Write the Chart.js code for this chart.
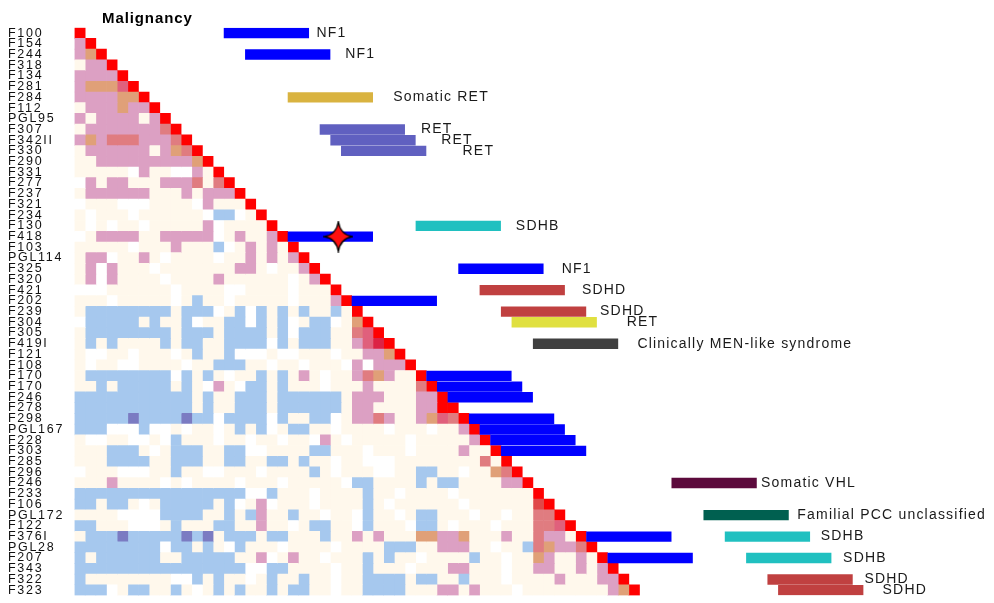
<!DOCTYPE html>
<html>
<head>
<meta charset="utf-8">
<script src="https://cdn.jsdelivr.net/npm/chart.js"></script>
<style>
  html, body { margin: 0; padding: 0; background: #ffffff; }
  canvas { display: block; }
</style>
</head>
<body>
<canvas id="chart" width="994" height="603"></canvas>
<script>
// Sample identifiers, top to bottom
const sampleLabels = [
  'F100','F154','F244','F318','F134','F281','F284','F112','PGL95','F307',
  'F342II','F330','F290','F331','F277','F237','F321','F234','F130','F418',
  'F103','PGL114','F325','F320','F421','F202','F239','F304','F305','F419I',
  'F121','F108','F170','F170','F246','F278','F298','PGL167','F228','F303',
  'F285','F296','F246','F233','F106','PGL172','F122','F376I','PGL28','F207',
  'F343','F322','F323'
];

// Lower-triangle similarity classes: row r holds one code per earlier sample (columns 0..r-1)
// . none  c weak  p moderate  o high  r strong  m very strong  d/e extreme  b inverse  v strong inverse
const cellRows = [
  '',
  'p',
  'po',
  'cpp',
  'pppp',
  'pooom',
  'ppppoo',
  'cpppopp',
  'pcppppcp',
  'cpppppppr',
  'poprrrpppr',
  'cppppppcpor',
  'ccpppppppppo',
  'ccccc.pcc..pc',
  '.pcppcccppprcr',
  'cppppppcccpcppp',
  '.ccc...cccc.pccc',
  'c.ccc.cccccc.bb.c',
  'c.c.cc.cccccp.cccc',
  '.cppppccppppp.cpccp',
  'ccccc.cccpcccb.cpcpc',
  'cpp.ccpc.cccc.ccpcpcp',
  'cp.pccc.cccccccppc.ccp',
  'cp.pcccc.ccccpcccccc.cp',
  '...cccccc.cccc..cccc.ccc',
  'ccc.ccccc.cbcc.ccccc.cccp',
  'cbbbbbbbbcbbb.cb.bcbcbccbc',
  '.bbbbbcbccb.ccbb.bcb.cbb.co',
  'cbbbbbbbbcbbbcbbbbcb.bbbccrm',
  'cbcbccccbcbbccbbbb.bcbbbccpmd',
  'c..cc.ccc.cbccb...c..ccc.ccppo',
  'c.cc..cccc.ccbbbcc.cc.ccc.p.ppp',
  'cbbbbbbbb.bcbc.ccbcbcpc.ccpropcc',
  'ccbcbbbbbcbc.pc.bbcbccc.cccpccccr',
  'bbbbbbbbbbbcbccbbbcbbbbbbcpppcccpp',
  'bbbbbbbbbbbcbccbbbcbbbbbbcppccccppX',
  'bbbbbvbbbbvbb.bbbb.bccbb.cpprpccpomr',
  'bbb...b..c.cc.cbcb.cbbcc.cccc.ccc.ccp',
  'c..cc..c.bccc.cc.cc.cc.pc.ccccc.cccccp',
  'cccbbbc.cbbbccbb..ccccbbccc.ccc.ccccpcc',
  'cccbbbbccbbbccbbccbbcbcc.cc...ccccccccr',
  '.ccc...ccbcc..ccc.ccccbc.ccc..ccbbcc.ccor',
  'cccpcccc.c.cccc.ccc.ccccc.bbccccbcbbccccpp',
  'bbbbbbbbbbbbbbbb..bccc.ccccbcc.cccc.ccccccc',
  'bbcbbc.cbbbbbcb.cp.ccc.ccccbc.cccccc.cccccce',
  'cccc....bbbbccbcbpccbcc.cc.bcc.cbbccc.cc.ccrr',
  'bbccc...cbcccbbccpcc.cbbcc.bccc.bbc.ccc.cccrrm',
  'cbbbvbbbbbvbvcbbbcbbcccbccpcpcccooppocccpccrppc',
  'bbbbbbbb.bbcbc.bccc.cccc.ccccbbbccpppcc.ccbroppr',
  'bcbbbbbbccbbbbbccp.cpcc.cccbcbcc.ccccbcc.ccopccpc',
  'bbbbbbbbbbbbbbbb..bbcccc.ccbccc.cccppccc.ccppccpcp',
  'bcccccccc..bcbcc.cbccbcc.ccbbbbcbbccbccc.ccccpcccpp',
  'bbb.cbbccbc.cbcbccbcbbcc.ccbbbbcccppcpccc.ccccccccpo'
];

// Mutation / syndrome bars beside the matrix
const barRow   = [0, 2, 6, 9, 10, 11, 18, 19, 22, 24, 25, 26, 27, 29, 32, 33, 34, 36, 37, 38, 39, 42, 45, 47, 47, 49, 49, 51, 52];
const barStart = [14, 16, 20, 23, 24, 25, 32, 20, 36, 38, 26, 40, 41, 43, 33, 34, 35, 37, 38, 39, 40, 56, 59, 48, 61, 50, 63, 65, 66];
const barEnd   = [22, 24, 28, 31, 32, 33, 40, 28, 44, 46, 34, 48, 49, 51, 41, 42, 43, 45, 46, 47, 48, 64, 67, 56, 69, 58, 71, 73, 74];
const barType  = ['NF1','NF1','sRET','RET','RET','RET','SDHB','NF1','NF1','SDHD','NF1','SDHD','RET2','MEN',
                  'NF1','NF1','NF1','NF1','NF1','NF1','NF1','VHL','FAM','NF1','SDHB','NF1','SDHB','SDHD','SDHD'];
const barLabel = ['NF1','NF1','Somatic RET','RET','RET','RET','SDHB','','NF1','SDHD','','SDHD','RET','Clinically MEN-like syndrome',
                  '','','','','','','','Somatic VHL','Familial PCC unclassified','','SDHB','','SDHB','SDHD','SDHD'];

// Flagged sample
const flaggedSample = 'F418';
const flaggedAt = 24.75;

const chartTitle = 'Malignancy';

// ---- styling / layout ----
const labelX = [22.7, 25.4, 29.9, 32.5, 34.4, 36.4, 41.4, 0, 45.7, 47.6, 0, 49.3, 51.8, 52.8,
                0, 0, 0, 0, 0, 0, 0, 64.4, 67.8, 0, 70.0, 0, 72.1, 74.1, 75.8];

const cellColors = {
  '.': '#ffffff', c: '#fff8ec', p: '#dca0c3', o: '#e0a078', r: '#e07c80',
  m: '#e0607c', d: '#dc2244', e: '#e04848', b: '#a6c8ee', v: '#7b7bc2', X: '#ff0000'
};
const barColors = {
  NF1: '#0000ff', sRET: '#d9b340', RET: '#6060c0', SDHB: '#20c0c0', SDHD: '#c04040',
  RET2: '#e0e040', MEN: '#404040', VHL: '#5c0a3c', FAM: '#006050'
};
const FONT = '"Liberation Sans", Arial, Helvetica, sans-serif';

const n = sampleLabels.length;

// One floating-bar dataset per matrix column
const cellDatasets = [];
for (let c = 0; c < n; c++) {
  const data = [], colors = [];
  for (let r = 0; r < n; r++) {
    let code = null;
    if (r === c) code = 'X';
    else if (c < r) code = cellRows[r][c] || 'c';
    if (code) { data.push([c, c + 1]); colors.push(cellColors[code]); }
    else { data.push(null); colors.push('rgba(0,0,0,0)'); }
  }
  cellDatasets.push({
    type: 'bar', indexAxis: 'y', data, backgroundColor: colors,
    borderWidth: 0, grouped: false, barPercentage: 1, categoryPercentage: 1, order: 3
  });
}

// Bars: two layers so rows carrying two bars keep both
const barLayers = [0, 1].map(() => ({
  data: new Array(n).fill(null), colors: new Array(n).fill('rgba(0,0,0,0)')
}));
barRow.forEach((r, i) => {
  const layer = barLayers[0].data[r] === null ? barLayers[0] : barLayers[1];
  layer.data[r] = [barStart[i], barEnd[i]];
  layer.colors[r] = barColors[barType[i]];
});
const barDatasets = barLayers.map(l => ({
  type: 'bar', indexAxis: 'y', data: l.data, backgroundColor: l.colors,
  borderWidth: 0, grouped: false, barPercentage: 0.97, categoryPercentage: 1, order: 2
}));

// Four-pointed star marker
const star = document.createElement('canvas');
star.width = 30; star.height = 32;
(function () {
  const g = star.getContext('2d');
  const cx = 15, cy = 16;
  g.beginPath();
  g.moveTo(cx, 1);
  g.quadraticCurveTo(cx + 2, cy - 2, 29, cy);
  g.quadraticCurveTo(cx + 2, cy + 2, cx, 31);
  g.quadraticCurveTo(cx - 2, cy + 2, 1, cy);
  g.quadraticCurveTo(cx - 2, cy - 2, cx, 1);
  g.closePath();
  g.fillStyle = '#ff1010';
  g.fill();
  g.lineWidth = 1.3;
  g.strokeStyle = '#000000';
  g.stroke();
})();

const starDataset = {
  type: 'scatter', data: [{ x: flaggedAt, y: flaggedSample }],
  pointStyle: star, pointRadius: 5, order: 1
};

const textLayer = {
  id: 'textLayer',
  beforeDraw(chart) { chart.ctx.letterSpacing = '1.7px'; },
  afterDraw(chart) {
    const { ctx } = chart;
    const xs = chart.scales.x, ys = chart.scales.y;
    ctx.save();
    ctx.fillStyle = '#1a1a1a';
    ctx.textAlign = 'left';
    ctx.textBaseline = 'middle';
    ctx.font = '14px ' + FONT;
    ctx.letterSpacing = '1.2px';
    barLabel.forEach((t, i) => {
      if (!t) return;
      ctx.fillText(t, xs.getPixelForValue(labelX[i]), ys.getPixelForValue(barRow[i]));
    });
    ctx.fillStyle = '#000000';
    ctx.font = 'bold 15px ' + FONT;
    ctx.letterSpacing = '0.9px';
    ctx.textBaseline = 'alphabetic';
    ctx.fillText(chartTitle, 102, 23);
    ctx.restore();
    ctx.letterSpacing = '0px';
  }
};

new Chart(document.getElementById('chart'), {
  type: 'bar',
  data: { labels: sampleLabels, datasets: [starDataset, ...barDatasets, ...cellDatasets] },
  options: {
    indexAxis: 'y',
    responsive: false,
    maintainAspectRatio: false,
    animation: false,
    devicePixelRatio: 1,
    layout: { padding: { left: 8, top: 27.7, right: 0, bottom: 6.6 } },
    plugins: { legend: { display: false }, tooltip: { enabled: false }, title: { display: false } },
    scales: {
      x: { type: 'linear', min: 0, max: 85.69, display: false },
      y: {
        type: 'category', offset: true,
        grid: { display: false }, border: { display: false },
        ticks: {
          autoSkip: false, crossAlign: 'far', padding: 0, color: '#111111',
          font: { family: FONT, size: 12.5 }
        },
        afterFit(scale) { scale.width = 66.5; }
      }
    }
  },
  plugins: [textLayer]
});
</script>
</body>
</html>
